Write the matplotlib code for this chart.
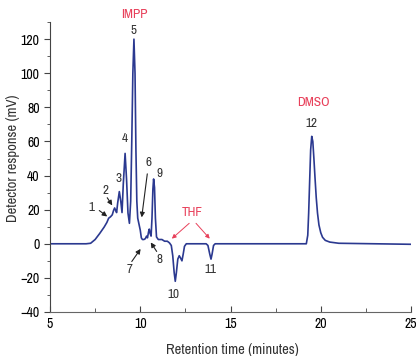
import matplotlib.pyplot as plt
import numpy as np
from matplotlib.ticker import MultipleLocator

plt.rcParams['font.family'] = ['Archivo Narrow', 'DejaVu Sans']
plt.rcParams['font.size'] = 10

# trace (time in minutes, response in mV)
time = [5.0, 7.0, 7.25, 7.5, 7.75, 8.0, 8.15, 8.25, 8.35, 8.45, 8.52, 8.58, 8.64, 8.69,
        8.75, 8.84, 8.92, 8.99, 9.06, 9.16, 9.24, 9.32, 9.40, 9.47, 9.53, 9.59, 9.65,
        9.71, 9.76, 9.81, 9.86, 9.93, 10.0, 10.06, 10.12, 10.2, 10.28, 10.35, 10.40,
        10.46, 10.50, 10.55, 10.60, 10.65, 10.70, 10.74, 10.79, 10.84, 10.90, 11.0,
        11.2, 11.35, 11.5, 11.62, 11.72, 11.8, 11.88, 11.94, 12.0, 12.08, 12.16, 12.24,
        12.31, 12.38, 12.45, 12.55, 13.65, 13.75, 13.85, 13.92, 13.98, 14.06, 14.15,
        19.2, 19.28, 19.33, 19.38, 19.44, 19.5, 19.56, 19.62, 19.68, 19.75, 19.82, 19.9,
        20.0, 20.1, 20.25, 20.5, 21.0, 25.0]
signal = [0, 0, 0.3, 2.5, 6, 9.8, 12.5, 15, 15.8, 17, 19.5, 21, 19.5, 18.3,
          24, 30.6, 25, 18.3, 35, 53, 38, 18, 12, 25, 60, 100, 120,
          100, 55, 25, 15, 11.5, 8, 3.5, 2.5, 2.5, 3, 4.5, 3.5,
          7, 8.6, 6, 4.5, 15, 32, 38, 33, 15, 4, 2.5,
          2.5, 1.5, 1.5, 0.5, -1, -7, -17, -22, -17, -9, -7, -8.5,
          -10, -6, -1.5, 0, 0, -1, -6, -9, -6, -1, 0,
          0, 5, 18, 35, 55, 63, 60, 50, 39, 27, 18, 11,
          6.5, 3.8, 2, 1, 0.3, -0.3]

# peak numbers: text position
peak_labels = ['1', '2', '3', '4', '5', '6', '7', '8', '9', '10', '11', '12']
label_t = [7.3, 8.1, 8.78, 9.16, 9.65, 10.44, 9.39, 11.06, 11.04, 11.85, 13.88, 19.47]
label_v = [21.5, 31.5, 38.5, 61.5, 125.0, 47.5, -15.0, -9.5, 41.5, -30.0, -15.0, 70.5]

# arrows: (text end) -> (tip)
arrow_t0 = [7.73, 8.17, 10.39, 9.53, 10.91]
arrow_v0 = [19.5, 27.0, 41.0, -10.4, -4.5]
arrow_t1 = [8.17, 8.45, 10.08, 10.02, 10.58]
arrow_v1 = [16.0, 22.5, 15.5, -3.0, 0.8]

fig = plt.figure(figsize=(4.16, 3.56), dpi=100)
ax = fig.add_axes([0.1202, 0.1236, 0.8678, 0.8144])

ax.plot(time, signal, color='#2b3990', linewidth=1.2)

for lab, t, v in zip(peak_labels, label_t, label_v):
    ax.text(t, v, lab, ha='center', va='center', color='#333333', fontsize=9.5)

for t0, v0, t1, v1 in zip(arrow_t0, arrow_v0, arrow_t1, arrow_v1):
    ax.annotate('', xy=(t1, v1), xytext=(t0, v0),
                arrowprops=dict(arrowstyle='-|>', color='#222222', lw=0.8,
                                mutation_scale=7, shrinkA=0, shrinkB=0))

red = '#e8405a'
ax.text(9.7, 134.5, 'IMPP', ha='center', va='center', color=red, fontsize=9.5)
ax.text(19.6, 83.0, 'DMSO', ha='center', va='center', color=red, fontsize=9.5)
ax.text(12.9, 18.5, 'THF', ha='center', va='center', color=red, fontsize=9.5)
for tx in [11.75, 13.85]:
    ax.annotate('', xy=(tx, 3.0), xytext=(12.9 + (tx - 12.8) * 0.18, 12.0),
                arrowprops=dict(arrowstyle='-|>', color=red, lw=0.7,
                                mutation_scale=6, shrinkA=0, shrinkB=0))

ax.set_xlim(5, 25)
ax.set_ylim(-40, 130)
ax.set_yticks(np.arange(-40, 121, 20))
ax.set_xticks(np.arange(5, 26, 5))
ax.yaxis.set_minor_locator(MultipleLocator(10))
ax.xaxis.set_minor_locator(MultipleLocator(2.5))

for s in ['top', 'right']:
    ax.spines[s].set_visible(False)
ax.spines['left'].set_color('#444444')
ax.spines['bottom'].set_color('#666666')
ax.tick_params(axis='y', which='major', direction='out', length=4, color='#444444', labelsize=10)
ax.tick_params(axis='y', which='minor', direction='out', length=2.5, color='#444444')
ax.tick_params(axis='x', which='major', direction='in', length=4, color='#444444', labelsize=10)
ax.tick_params(axis='x', which='minor', direction='in', length=3, color='#444444')

ax.set_xlabel('Retention time (minutes)', fontsize=10.5, color='#333333', va='center')
ax.set_ylabel('Detector response (mV)', fontsize=10.5, color='#333333', va='center')
ax.xaxis.set_label_coords(0.504, -0.131)
ax.yaxis.set_label_coords(-0.102, 0.531)

plt.savefig('out.png', dpi=100)
